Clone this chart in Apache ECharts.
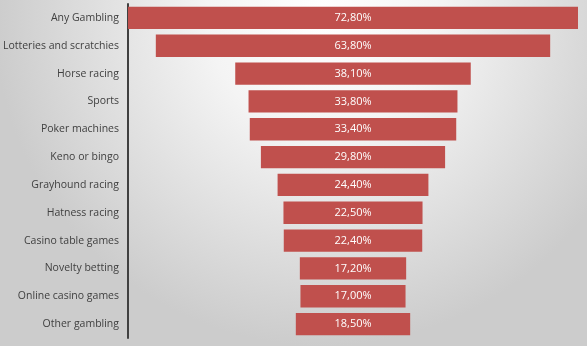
<!DOCTYPE html>
<html><head><meta charset="utf-8">
<script src="https://cdn.jsdelivr.net/npm/echarts@6/dist/echarts.min.js"></script>
<style>html,body{margin:0;padding:0;}#c{width:587px;height:346px;}</style>
</head><body><div id="c"></div>
<script>
const categories = ["Any Gambling","Lotteries and scratchies","Horse racing","Sports","Poker machines","Keno or bingo","Grayhound racing","Hatness racing","Casino table games","Novelty betting","Online casino games","Other gambling"];
const values = [72.8,63.8,38.1,33.8,33.4,29.8,24.4,22.5,22.4,17.2,17.0,18.5];
const maxValue = Math.max(...values);
const offsets = values.map(v => (maxValue - v) / 2);

const chart = echarts.init(document.getElementById('c'));
chart.setOption({
  backgroundColor: {
    type: 'radial', x: 0.55, y: 0.05, r: 0.95,
    colorStops: [{offset: 0, color: '#ffffff'}, {offset: 0.35, color: '#f4f4f4'}, {offset: 1, color: '#cccccc'}]
  },
  animation: false,
  grid: {left: 128, right: 9, top: 4, bottom: 8, containLabel: false, outerBoundsMode: 'none'},
  xAxis: {type: 'value', min: 0, max: maxValue, show: false},
  yAxis: {
    type: 'category', data: categories, inverse: true,
    axisLine: {show: true, lineStyle: {color: '#404040', width: 2}},
    axisTick: {show: false},
    axisLabel: {color: '#404040', fontSize: 10.5, fontFamily: 'Open Sans', margin: 9}
  },
  series: [
    {type: 'bar', stack: 's', data: offsets, itemStyle: {color: 'transparent'}, barWidth: '80%', silent: true},
    {type: 'bar', stack: 's', data: values, barWidth: '80%',
      itemStyle: {color: '#c0504d'},
      label: {show: true, position: 'inside', color: '#ffffff', fontSize: 11, fontFamily: 'Open Sans',
        formatter: p => p.value.toFixed(2).replace('.', ',') + '%'}}
  ]
});
</script></body></html>
